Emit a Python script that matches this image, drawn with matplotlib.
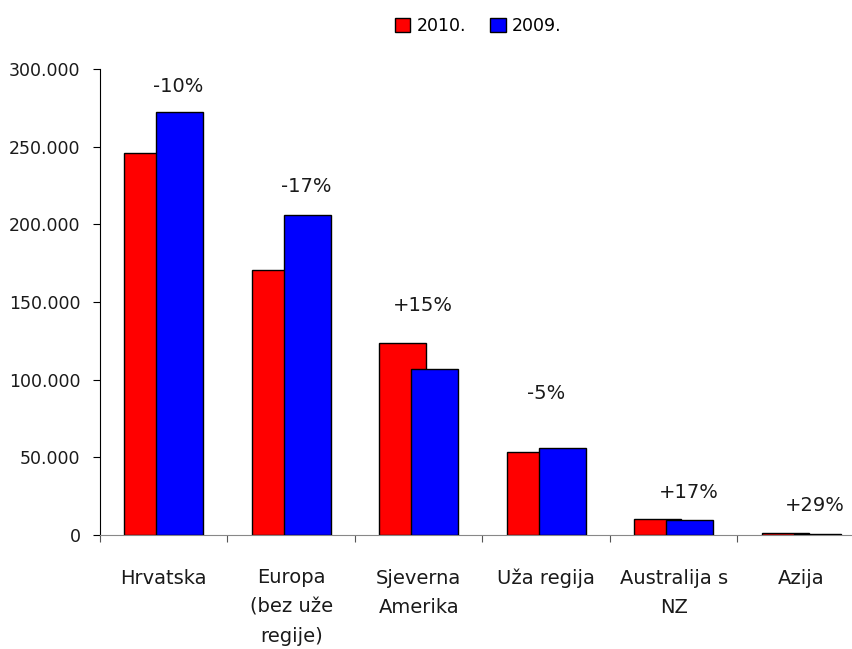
import matplotlib
matplotlib.use("Agg")
import matplotlib.pyplot as plt
from matplotlib.patches import Patch
import matplotlib.transforms as mtransforms
import numpy as np

categories = ["Hrvatska", "Europa\n(bez uže\nregije)", "Sjeverna\nAmerika", "Uža regija", "Australija s\nNZ", "Azija"]
values_2010 = [246000, 170500, 123500, 53500, 10600, 1000]
values_2009 = [272000, 206000, 107000, 56000, 9700, 800]
changes = ["-10%", "-17%", "+15%", "-5%", "+17%", "+29%"]
yticks = [0, 50000, 100000, 150000, 200000, 250000, 300000]
ytick_labels = ["0", "50.000", "100.000", "150.000", "200.000", "250.000", "300.000"]

# layout for change labels (offsets in pixels from top of tallest bar)
label_dx = [14, 15, 4, 0, 15, 14]
label_dy = [26, 29, 38, 55, 26, 28]

plt.rcParams['font.family'] = ['DejaVu Sans']

W, H = 853, 649
fig = plt.figure(figsize=(W / 100, H / 100), dpi=100)
ax = fig.add_axes([100 / W, (H - 535) / H, 765 / W, 466 / H])

x = np.arange(len(categories)) + 0.5
width = 0.37
off = 0.125
ax.bar(x - off, values_2010, width, color="#ff0000", edgecolor="black", linewidth=1.0, zorder=2)
ax.bar(x + off, values_2009, width, color="#0000ff", edgecolor="black", linewidth=1.0, zorder=3)

ax.set_xlim(0, len(categories))
ax.set_ylim(0, 300000)
ax.set_yticks(yticks)
ax.set_yticklabels(ytick_labels, fontsize=12.5, color="#1a1a1a")
ax.set_xticks(np.arange(len(categories) + 1), minor=False)
ax.set_xticklabels([])
ax.tick_params(axis="x", which="major", length=5, direction="out", color="#555555")
ax.tick_params(axis="y", length=5, direction="out", pad=9)

# category labels: first-line baselines aligned
line_px = 29
base_px = 49
for xi, lab in zip(x, categories):
    nlines = lab.count("\n") + 1
    tr = ax.get_xaxis_transform() + mtransforms.ScaledTranslation(
        0, -(base_px + (nlines - 1) * line_px) / 100, fig.dpi_scale_trans)
    ax.text(xi, 0, lab, transform=tr, ha="center", va="baseline", multialignment="center",
            fontsize=14, linespacing=1.7, color="#1a1a1a")

for s in ["top", "right"]:
    ax.spines[s].set_visible(False)
ax.spines["bottom"].set_color("#888888")
ax.spines["left"].set_color("black")

px = 72 / 100
for i, lab in enumerate(changes):
    top = max(values_2010[i], values_2009[i])
    ax.annotate(lab, xy=(x[i], top), xytext=(label_dx[i] * px, label_dy[i] * px),
                textcoords="offset points", ha="center", va="center", fontsize=14, color="#1a1a1a")

handles = [Patch(facecolor="#ff0000", edgecolor="black"), Patch(facecolor="#0000ff", edgecolor="black")]
fig.legend(handles, ["2010.", "2009."], loc="center", bbox_to_anchor=(478 / W, 1 - 26 / H),
           ncol=2, frameon=False, fontsize=12.5, handlelength=0.9, handleheight=0.9,
           handletextpad=0.35, columnspacing=1.4)

fig.savefig("out.png", dpi=100)
